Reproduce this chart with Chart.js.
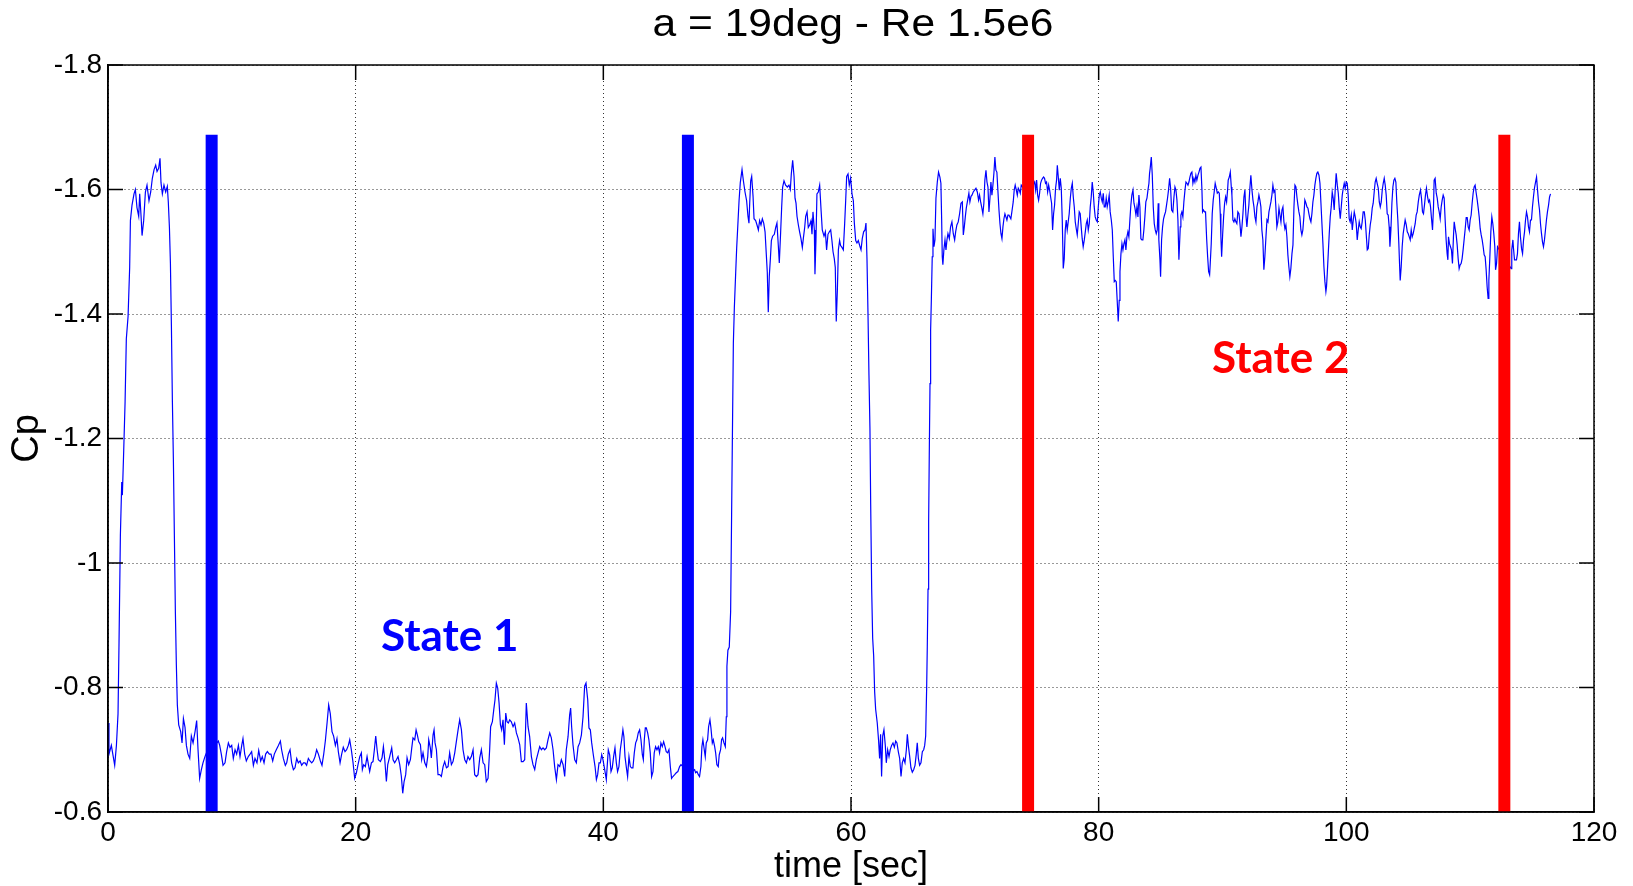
<!DOCTYPE html>
<html>
<head>
<meta charset="utf-8">
<title>a = 19deg - Re 1.5e6</title>
<script src="https://cdn.jsdelivr.net/npm/chart.js@4.4.1/dist/chart.umd.min.js"></script>
<style>
  html, body { margin: 0; padding: 0; background: #fff; }
  #wrap { width: 1633px; height: 886px; }
</style>
</head>
<body>
<div id="wrap"><canvas id="cpChart" width="1633" height="886"></canvas></div>
<script>
// ---- data: [time (s), Cp] ----
var traceStart = [
  [0,-0.743],[0.08,-0.693],[0.27,-0.707],[0.54,-0.675],[0.68,-0.707],[0.81,-0.758],[0.89,-0.872],[1.0,-1.044],
  [1.11,-1.13],[1.16,-1.109],[1.27,-1.181],[1.38,-1.259],[1.48,-1.36],[1.62,-1.396],[1.75,-1.475],[1.81,-1.55],
  [1.94,-1.575],[2.10,-1.593],[2.21,-1.6],[2.34,-1.571],[2.48,-1.557],[2.56,-1.593],[2.67,-1.557],[2.75,-1.526],
  [2.88,-1.55],[3.02,-1.596],[3.15,-1.607],[3.31,-1.582],[3.45,-1.596],[3.58,-1.618],[3.72,-1.632],[3.85,-1.639],
  [3.96,-1.629],[4.09,-1.634],[4.20,-1.65],[4.28,-1.611],[4.39,-1.593],[4.52,-1.607],[4.66,-1.596],[4.79,-1.605],
  [4.87,-1.58],[4.96,-1.539],[5.04,-1.482],[5.12,-1.381],[5.20,-1.259],[5.28,-1.166],[5.36,-1.044],[5.44,-0.922],
  [5.52,-0.836],[5.60,-0.772],[5.71,-0.740],[5.87,-0.729],[5.98,-0.711],[6.09,-0.750],[6.22,-0.736],[6.33,-0.707],
  [6.46,-0.693],[6.60,-0.686],[6.73,-0.722],[6.87,-0.711],[7.03,-0.729],[7.16,-0.747],[7.27,-0.700],[7.40,-0.654],
  [7.54,-0.668],[7.67,-0.679],[7.83,-0.689],[8.05,-0.70],[8.45,-0.72],[8.75,-0.71],[8.91,-0.714],[9.02,-0.707],
  [9.15,-0.693],[9.29,-0.675],[9.45,-0.679],[9.58,-0.697],[9.72,-0.711],[9.85,-0.704],[9.99,-0.707],[10.12,-0.686],
  [10.26,-0.700],[10.39,-0.693],[10.53,-0.707],[10.66,-0.689],[10.80,-0.707],[10.90,-0.718],[11.04,-0.693],[11.17,-0.682],
  [11.33,-0.689],[11.47,-0.693],[11.60,-0.697],[11.74,-0.675],[11.87,-0.686],[12.03,-0.679],[12.17,-0.699],[12.33,-0.682],
  [12.46,-0.689],[12.60,-0.679],[12.73,-0.693],[12.87,-0.697],[13.03,-0.693],[13.16,-0.693],[13.30,-0.682],[13.43,-0.693],
  [13.59,-0.700],[13.76,-0.707],[13.92,-0.714],[14.02,-0.700],[14.16,-0.686],[14.32,-0.675],[14.43,-0.679],[14.56,-0.693],
  [14.70,-0.700],[14.83,-0.679],[14.97,-0.668],[15.10,-0.671],[15.24,-0.686],[15.37,-0.679],[15.51,-0.682],[15.64,-0.675],
  [15.78,-0.679],[15.91,-0.679],[16.04,-0.675],[16.18,-0.686],[16.31,-0.682],[16.45,-0.679],[16.58,-0.682],[16.72,-0.689],
  [16.85,-0.700],[16.99,-0.693],[17.15,-0.682],[17.28,-0.675],[17.42,-0.693],[17.55,-0.714],[17.69,-0.743],[17.82,-0.772],
  [17.95,-0.758],[18.09,-0.729],[18.22,-0.722],[18.36,-0.707],[18.49,-0.718],[18.60,-0.697],[18.74,-0.679],[18.87,-0.693],
  [19.00,-0.704],[19.14,-0.697],[19.27,-0.700],[19.41,-0.707]
];

var traceState1 = [
  [19.52,-0.716],[19.65,-0.700],[19.79,-0.679],[19.92,-0.654],[20.06,-0.663],[20.19,-0.676],[20.33,-0.689],[20.46,-0.695],
  [20.54,-0.668],[20.65,-0.676],[20.78,-0.673],[20.92,-0.689],[21.03,-0.676],[21.13,-0.665],[21.27,-0.679],[21.40,-0.681],
  [21.51,-0.700],[21.62,-0.722],[21.73,-0.700],[21.83,-0.684],[22.00,-0.681],[22.13,-0.687],[22.24,-0.705],[22.35,-0.684],
  [22.48,-0.649],[22.59,-0.676],[22.75,-0.689],[22.91,-0.703],[23.02,-0.684],[23.15,-0.679],[23.29,-0.684],[23.42,-0.689],
  [23.56,-0.676],[23.69,-0.657],[23.80,-0.630],[23.91,-0.649],[24.04,-0.660],[24.15,-0.687],[24.28,-0.676],[24.42,-0.684],
  [24.53,-0.703],[24.63,-0.719],[24.77,-0.716],[24.88,-0.732],[24.98,-0.724],[25.09,-0.713],[25.23,-0.708],[25.33,-0.684],
  [25.44,-0.695],[25.58,-0.679],[25.71,-0.673],[25.82,-0.689],[25.90,-0.716],[26.03,-0.703],[26.11,-0.687],[26.25,-0.724],
  [26.33,-0.732],[26.41,-0.711],[26.52,-0.700],[26.65,-0.660],[26.79,-0.660],[26.92,-0.657],[27.06,-0.673],[27.19,-0.681],
  [27.33,-0.671],[27.46,-0.673],[27.59,-0.695],[27.73,-0.676],[27.86,-0.681],[28.00,-0.695],[28.13,-0.713],[28.27,-0.732],
  [28.40,-0.748],[28.54,-0.732],[28.67,-0.700],[28.81,-0.684],[28.94,-0.679],[29.07,-0.689],[29.21,-0.684],[29.34,-0.689],
  [29.48,-0.700],[29.61,-0.660],[29.75,-0.657],[29.88,-0.660],[30.02,-0.687],[30.15,-0.700],[30.29,-0.679],[30.42,-0.676],
  [30.55,-0.649],[30.69,-0.654],[30.82,-0.700],[30.90,-0.737],[31.04,-0.745],[31.15,-0.764],[31.25,-0.780],[31.36,-0.807],
  [31.47,-0.799],[31.58,-0.775],[31.69,-0.740],[31.79,-0.732],[31.90,-0.748],[32.01,-0.708],[32.12,-0.759],[32.22,-0.745],
  [32.33,-0.743],[32.44,-0.748],[32.57,-0.745],[32.71,-0.737],[32.84,-0.743],[32.98,-0.727],[33.11,-0.719],[33.25,-0.708],
  [33.38,-0.681],[33.52,-0.681],[33.65,-0.684],[33.78,-0.775],[33.92,-0.737],[34.05,-0.721],[34.19,-0.689],[34.32,-0.676],
  [34.46,-0.668],[34.59,-0.684],[34.73,-0.695],[34.86,-0.705],[35.00,-0.700],[35.13,-0.703],[35.26,-0.700],[35.40,-0.703],
  [35.53,-0.716],[35.67,-0.727],[35.80,-0.719],[35.94,-0.700],[36.07,-0.673],[36.21,-0.652],[36.34,-0.676],[36.48,-0.673],
  [36.61,-0.684],[36.75,-0.676],[36.88,-0.657],[37.01,-0.700],[37.15,-0.721],[37.28,-0.756],[37.36,-0.767],[37.44,-0.737],
  [37.55,-0.708],[37.69,-0.684],[37.82,-0.679],[37.96,-0.705],[38.09,-0.711],[38.23,-0.724],[38.36,-0.753],[38.49,-0.802],
  [38.60,-0.807],[38.74,-0.780],[38.84,-0.735],[38.95,-0.732],[39.06,-0.711],[39.19,-0.692],[39.33,-0.673],[39.44,-0.652],
  [39.54,-0.660],[39.65,-0.679],[39.76,-0.679],[39.87,-0.692],[39.97,-0.684],[40.11,-0.668],[40.24,-0.652],[40.40,-0.700],
  [40.51,-0.692],[40.62,-0.665],[40.72,-0.671],[40.83,-0.689],[40.94,-0.703],[41.05,-0.679],[41.15,-0.665],[41.26,-0.673],
  [41.37,-0.700],[41.48,-0.716],[41.58,-0.732],[41.66,-0.721],[41.75,-0.689],[41.85,-0.673],[41.96,-0.657],[42.07,-0.689],
  [42.18,-0.673],[42.28,-0.671],[42.39,-0.671],[42.50,-0.695],[42.61,-0.711],[42.71,-0.716],[42.82,-0.727],[42.93,-0.732],
  [43.04,-0.716],[43.15,-0.692],[43.23,-0.684],[43.31,-0.716],[43.39,-0.735],[43.47,-0.735],[43.58,-0.727],[43.68,-0.716],
  [43.79,-0.695],[43.90,-0.657],[44.01,-0.665],[44.11,-0.695],[44.22,-0.705],[44.33,-0.700],[44.44,-0.705],[44.54,-0.695],
  [44.65,-0.711],[44.76,-0.705],[44.87,-0.713],[44.98,-0.705],[45.08,-0.697],[45.19,-0.695],[45.30,-0.700],[45.41,-0.673],
  [45.51,-0.654],[45.62,-0.657],[45.76,-0.660],[45.89,-0.663],[46.02,-0.665],[46.16,-0.673],[46.27,-0.676],[46.5,-0.672],
  [46.9,-0.668],[47.2,-0.666],[47.37,-0.668],[47.45,-0.663],[47.56,-0.665],[47.67,-0.660],[47.77,-0.657],[47.88,-0.673],
  [47.96,-0.705],[48.04,-0.716],[48.15,-0.700],[48.23,-0.689],[48.31,-0.711],[48.42,-0.716],[48.50,-0.737],[48.61,-0.748],
  [48.69,-0.735],[48.80,-0.711],[48.88,-0.716],[48.99,-0.705],[49.07,-0.695],[49.17,-0.676],[49.28,-0.673],[49.36,-0.692],
  [49.47,-0.700],[49.55,-0.716],[49.63,-0.719],[49.74,-0.711],[49.85,-0.705],[49.93,-0.753],[49.98,-0.834],[50.06,-0.860]
];

var traceSwitch = [
  [50.17,-0.865],[50.28,-0.922],[50.36,-1.08],[50.44,-1.238],[50.50,-1.353],[50.58,-1.41],[50.69,-1.467],[50.77,-1.507],
  [50.88,-1.55],[50.96,-1.582],[51.06,-1.611],[51.20,-1.632],[51.31,-1.614],[51.44,-1.596],[51.57,-1.582],[51.68,-1.557],
  [51.76,-1.546],[51.82,-1.578],[51.90,-1.614],[51.98,-1.621],[52.09,-1.589],[52.17,-1.553],[52.30,-1.550],[52.41,-1.543],
  [52.52,-1.535],[52.62,-1.550],[52.73,-1.543],[52.84,-1.553],[52.95,-1.546],[53.06,-1.532],[53.16,-1.496],[53.24,-1.467],
  [53.32,-1.403],[53.40,-1.46],[53.49,-1.489],[53.57,-1.518],[53.67,-1.525],[53.81,-1.528],[53.92,-1.539],[54.02,-1.546],
  [54.13,-1.510],[54.21,-1.482],[54.32,-1.532],[54.40,-1.571],[54.48,-1.604],[54.59,-1.614],[54.72,-1.607],[54.86,-1.604],
  [54.99,-1.607],[55.10,-1.6],[55.18,-1.625],[55.29,-1.647],[55.40,-1.621],[55.48,-1.586],[55.56,-1.578],[55.64,-1.557],
  [55.75,-1.543],[55.85,-1.532],[55.96,-1.521],[56.07,-1.507],[56.15,-1.521],[56.26,-1.539],[56.34,-1.557],[56.45,-1.564],
  [56.55,-1.539],[56.66,-1.543],[56.77,-1.550],[56.85,-1.528],[56.93,-1.564],[57.04,-1.535],[57.09,-1.464],[57.17,-1.518],
  [57.25,-1.593],[57.36,-1.596],[57.47,-1.607],[57.58,-1.568],[57.68,-1.535],[57.82,-1.525],[57.93,-1.532],[58.03,-1.503],
  [58.14,-1.528],[58.25,-1.532],[58.36,-1.535],[58.46,-1.518],[58.55,-1.5],[58.65,-1.489],[58.73,-1.475],[58.81,-1.388],
  [58.90,-1.439],[58.98,-1.503],[59.08,-1.518],[59.16,-1.510],[59.27,-1.507],[59.38,-1.503],[59.49,-1.546],[59.57,-1.582],
  [59.65,-1.621],[59.76,-1.625],[59.86,-1.607],[59.97,-1.618],[60.08,-1.593],[60.19,-1.582],[60.27,-1.546],[60.38,-1.518],
  [60.48,-1.514],[60.59,-1.518],[60.70,-1.510],[60.81,-1.503],[60.91,-1.521],[61.02,-1.532],[61.13,-1.535],[61.21,-1.546],
  [61.29,-1.489],[61.37,-1.403],[61.45,-1.302],[61.53,-1.216],[61.59,-1.094],[61.67,-0.958],[61.75,-0.879],[61.83,-0.851],
  [61.91,-0.793],[61.99,-0.765],[62.12,-0.743],[62.23,-0.714],[62.31,-0.686],[62.39,-0.725],[62.47,-0.657],[62.56,-0.722],
  [62.66,-0.732],[62.77,-0.707],[62.85,-0.679],[62.96,-0.700],[63.07,-0.689],[63.17,-0.700],[63.28,-0.707],[63.39,-0.711],
  [63.50,-0.704],[63.61,-0.714],[63.71,-0.711],[63.82,-0.697],[63.93,-0.686],[64.04,-0.657],[64.14,-0.679],[64.25,-0.686],
  [64.36,-0.679],[64.47,-0.700],[64.55,-0.725],[64.63,-0.707],[64.74,-0.689],[64.84,-0.671],[64.95,-0.664],[65.06,-0.668],
  [65.17,-0.675],[65.27,-0.693],[65.35,-0.711],[65.44,-0.686],[65.54,-0.675],[65.65,-0.679],[65.76,-0.697],[65.87,-0.700],
  [65.95,-0.707],[66.03,-0.722],[66.11,-0.800],[66.16,-0.865],[66.22,-0.958],[66.27,-1.066],[66.32,-1.173],[66.38,-1.288],
  [66.43,-1.374],[66.49,-1.424]
];

var traceState2a = [
  [66.56,-1.492],[66.62,-1.537],[66.70,-1.508],[66.78,-1.519],[66.86,-1.586],[66.97,-1.612],[67.07,-1.628],[67.18,-1.620],
  [67.26,-1.610],[67.32,-1.553],[67.37,-1.492],[67.42,-1.479],[67.50,-1.503],[67.59,-1.519],[67.67,-1.503],[67.75,-1.519],
  [67.83,-1.529],[67.94,-1.521],[68.04,-1.540],[68.15,-1.548],[68.26,-1.529],[68.37,-1.519],[68.45,-1.532],[68.55,-1.543],
  [68.66,-1.548],[68.77,-1.561],[68.88,-1.578],[68.99,-1.580],[69.07,-1.527],[69.15,-1.540],[69.23,-1.556],[69.31,-1.570],
  [69.42,-1.583],[69.52,-1.594],[69.60,-1.580],[69.69,-1.589],[69.77,-1.591],[69.87,-1.596],[69.98,-1.599],[70.09,-1.602],
  [70.20,-1.596],[70.30,-1.583],[70.38,-1.591],[70.47,-1.580],[70.55,-1.572],[70.65,-1.561],[70.73,-1.578],[70.81,-1.615],
  [70.90,-1.631],[70.98,-1.612],[71.06,-1.604],[71.14,-1.564],[71.22,-1.586],[71.30,-1.612],[71.38,-1.591],[71.46,-1.607],
  [71.54,-1.626],[71.62,-1.652],[71.70,-1.631],[71.78,-1.628],[71.86,-1.599],[71.95,-1.567],[72.03,-1.545],[72.11,-1.529],
  [72.19,-1.521],[72.27,-1.540],[72.35,-1.553],[72.43,-1.561],[72.51,-1.556],[72.59,-1.551],[72.67,-1.559],[72.75,-1.559],
  [72.83,-1.556],[72.91,-1.553],[72.99,-1.564],[73.10,-1.580],[73.18,-1.599],[73.26,-1.607],[73.35,-1.599],[73.43,-1.591],
  [73.51,-1.602],[73.59,-1.599],[73.67,-1.594],[73.75,-1.607],[74.0,-1.60],[74.35,-1.595],[74.65,-1.605],[74.83,-1.612],
  [74.91,-1.599],[74.99,-1.615],[75.07,-1.591],[75.15,-1.583],[75.23,-1.594],[75.31,-1.610],[75.39,-1.615],[75.47,-1.618],
  [75.55,-1.620],[75.63,-1.618],[75.71,-1.610],[75.79,-1.612],[75.88,-1.596],[75.96,-1.607],[76.04,-1.599],[76.12,-1.588],
  [76.20,-1.578],[76.28,-1.535],[76.36,-1.561],[76.44,-1.575],[76.52,-1.602],[76.60,-1.615],[76.66,-1.639],[76.74,-1.620],
  [76.82,-1.599],[76.90,-1.618],[76.98,-1.602],[77.06,-1.551],[77.14,-1.473],[77.22,-1.489],[77.30,-1.535],[77.38,-1.551],
  [77.46,-1.535],[77.54,-1.548],[77.62,-1.561],[77.71,-1.586],[77.79,-1.602],[77.87,-1.610],[77.95,-1.588],[78.03,-1.572],
  [78.11,-1.548],[78.19,-1.537],[78.27,-1.527],[78.35,-1.545],[78.43,-1.564],[78.51,-1.561],[78.59,-1.540],[78.67,-1.521],
  [78.75,-1.508],[78.84,-1.519],[78.92,-1.532],[79.00,-1.545],[79.08,-1.551],[79.16,-1.535],[79.24,-1.545],[79.32,-1.572],
  [79.40,-1.588],[79.48,-1.612],[79.56,-1.596],[79.64,-1.572],[79.72,-1.556],[79.80,-1.551],[79.89,-1.548],[79.97,-1.572],
  [80.05,-1.591],[80.13,-1.596],[80.21,-1.586],[80.29,-1.580],[80.37,-1.594],[80.45,-1.572],[80.53,-1.572],[80.61,-1.586],
  [80.69,-1.572],[80.77,-1.580],[80.85,-1.591],[80.93,-1.564],[81.02,-1.551],[81.10,-1.535],[81.18,-1.492],[81.26,-1.452],
  [81.34,-1.454],[81.42,-1.452],[81.50,-1.420],[81.58,-1.388],[81.66,-1.422],[81.72,-1.468],[81.80,-1.497],[81.88,-1.513],
  [81.96,-1.503],[82.04,-1.513],[82.12,-1.519],[82.20,-1.503],[82.28,-1.524],[82.36,-1.532],[82.44,-1.524],[82.52,-1.551],
  [82.60,-1.575],[82.68,-1.591],[82.77,-1.599],[82.85,-1.578],[82.93,-1.570],[83.01,-1.559],[83.09,-1.572],[83.17,-1.556],
  [83.25,-1.591],[83.33,-1.572],[83.41,-1.521],[83.49,-1.519],[83.57,-1.519],[83.65,-1.535],[83.73,-1.556],[83.81,-1.580],
  [83.90,-1.586],[83.98,-1.599],[84.06,-1.610],[84.11,-1.626],[84.16,-1.634],[84.25,-1.652],[84.33,-1.623],[84.41,-1.572],
  [84.49,-1.545],[84.57,-1.535],[84.65,-1.529],[84.73,-1.535],[84.81,-1.578],[84.86,-1.519],[84.95,-1.487],[85.00,-1.460],
  [85.08,-1.519],[85.16,-1.540],[85.24,-1.553],[85.32,-1.559],[85.40,-1.564],[85.48,-1.575],[85.56,-1.586],[85.64,-1.599],
  [85.73,-1.618],[85.81,-1.602],[85.89,-1.567],[85.99,-1.564],[86.08,-1.588],[86.16,-1.604],[86.24,-1.599],[86.32,-1.583],
  [86.40,-1.551],[86.48,-1.487]
];

var traceState2b = [
  [86.59,-1.540],[86.64,-1.559],[86.72,-1.564],[86.80,-1.556],[86.88,-1.580],[86.97,-1.599],[87.05,-1.612],[87.13,-1.610],
  [87.21,-1.607],[87.29,-1.612],[87.37,-1.620],[87.45,-1.626],[87.53,-1.628],[87.61,-1.610],[87.69,-1.618],[87.77,-1.612],
  [87.85,-1.623],[87.93,-1.615],[88.02,-1.623],[88.10,-1.628],[88.18,-1.634],[88.26,-1.636],[88.34,-1.599],[88.39,-1.564],
  [88.47,-1.567],[88.55,-1.564],[88.63,-1.564],[88.72,-1.521],[88.80,-1.492],[88.88,-1.468],[88.96,-1.463],[89.01,-1.481],
  [89.09,-1.513],[89.17,-1.561],[89.25,-1.583],[89.33,-1.596],[89.41,-1.610],[89.50,-1.602],[89.58,-1.594],[89.66,-1.596],
  [89.74,-1.594],[89.82,-1.561],[89.87,-1.524],[89.93,-1.492],[90.01,-1.527],[90.09,-1.556],[90.17,-1.578],[90.25,-1.588],
  [90.33,-1.580],[90.41,-1.599],[90.46,-1.615],[90.55,-1.620],[90.63,-1.628],[90.71,-1.604],[90.76,-1.591],[90.84,-1.551],
  [90.92,-1.548],[91.00,-1.553],[91.08,-1.548],[91.16,-1.545],[91.24,-1.564],[91.33,-1.561],[91.41,-1.545],[91.49,-1.524],
  [91.57,-1.540],[91.65,-1.561],[91.73,-1.588],[91.81,-1.599],[91.89,-1.559],[91.97,-1.540],[92.05,-1.559],[92.13,-1.575],
  [92.21,-1.602],[92.29,-1.623],[92.38,-1.599],[92.46,-1.583],[92.54,-1.572],[92.62,-1.556],[92.70,-1.548],[92.78,-1.572],
  [92.86,-1.580],[92.94,-1.591],[93.02,-1.583],[93.10,-1.572],[93.18,-1.535],[93.26,-1.519],[93.34,-1.471],[93.42,-1.492],
  [93.51,-1.524],[93.59,-1.551],[93.67,-1.548],[93.75,-1.564],[93.83,-1.572],[93.91,-1.580],[93.99,-1.591],[94.07,-1.607],
  [94.15,-1.596],[94.23,-1.599],[94.31,-1.572],[94.39,-1.540],[94.47,-1.548],[94.56,-1.570],[94.64,-1.559],[94.72,-1.548],
  [94.80,-1.567],[94.88,-1.572],[94.96,-1.548],[95.04,-1.537],[95.12,-1.543],[95.20,-1.524],[95.28,-1.495],[95.36,-1.476],
  [95.44,-1.460],[95.52,-1.473],[95.61,-1.497],[95.69,-1.511],[95.77,-1.572],[95.85,-1.607],[95.93,-1.604],[96.01,-1.588],
  [96.09,-1.575],[96.17,-1.564],[96.25,-1.556],[96.33,-1.535],[96.41,-1.527],[96.49,-1.535],[96.57,-1.556],[96.65,-1.583],
  [96.74,-1.578],[96.82,-1.572],[96.90,-1.570],[96.98,-1.561],[97.06,-1.553],[97.14,-1.548],[97.22,-1.561],[97.30,-1.580],
  [97.38,-1.591],[97.46,-1.607],[97.54,-1.618],[97.62,-1.626],[97.70,-1.628],[97.79,-1.623],[97.87,-1.610],[97.95,-1.578],
  [98.03,-1.545],[98.11,-1.513],[98.19,-1.476],[98.27,-1.452],[98.35,-1.436],[98.40,-1.444],[98.46,-1.465],[98.54,-1.497],
  [98.62,-1.529],[98.70,-1.556],[98.78,-1.572],[98.86,-1.596],[98.94,-1.586],[99.02,-1.567],[99.10,-1.599],[99.18,-1.626],
  [99.27,-1.607],[99.35,-1.594],[99.43,-1.570],[99.51,-1.553],[99.59,-1.572],[99.67,-1.591],[99.75,-1.602],[99.83,-1.610],
  [99.91,-1.602],[99.99,-1.612],[100.07,-1.610],[100.15,-1.591],[100.23,-1.553],[100.31,-1.548],[100.40,-1.559],[100.48,-1.535],
  [100.56,-1.551],[100.64,-1.564],[100.72,-1.556],[100.80,-1.545],[100.88,-1.519],[100.96,-1.535],[101.04,-1.548],[101.12,-1.540],
  [101.20,-1.537],[101.28,-1.548],[101.36,-1.564],[101.45,-1.564],[101.53,-1.551],[101.61,-1.527],[101.69,-1.503],[101.77,-1.505],
  [101.85,-1.527],[101.93,-1.543],[102.01,-1.553],[102.09,-1.570],[102.17,-1.578],[102.25,-1.596],[102.33,-1.612],[102.41,-1.618],
  [102.49,-1.610],[102.58,-1.602],[102.66,-1.580],[102.74,-1.572],[102.82,-1.580],[102.90,-1.599],[102.98,-1.610],[103.06,-1.618],
  [103.14,-1.607],[103.22,-1.591],[103.30,-1.561],[103.38,-1.559],[103.46,-1.540],[103.52,-1.508],[103.60,-1.535],[103.68,-1.578],
  [103.76,-1.604],[103.84,-1.615],[103.92,-1.618],[104.00,-1.612],[104.08,-1.578],[104.16,-1.551],[104.24,-1.513],[104.30,-1.479],
  [104.35,-1.454],[104.43,-1.476],[104.51,-1.508],[104.59,-1.529],[104.67,-1.540],[104.75,-1.551],[104.84,-1.543],[104.92,-1.532],
  [105.00,-1.529],[105.08,-1.524],[105.16,-1.519],[105.24,-1.535],[105.32,-1.524],[105.40,-1.529],[105.48,-1.537],[105.56,-1.545],
  [105.64,-1.559],[105.72,-1.564],[105.81,-1.580],[105.89,-1.591],[105.99,-1.599],[106.07,-1.586],[106.15,-1.564],[106.23,-1.561],
  [106.31,-1.575],[106.39,-1.591],[106.47,-1.602],[106.56,-1.588],[106.64,-1.580],[106.72,-1.583],[106.80,-1.572],[106.88,-1.553],
  [106.96,-1.535],[107.04,-1.572],[107.09,-1.615],[107.17,-1.618],[107.26,-1.594],[107.34,-1.586],[107.42,-1.572],[107.50,-1.564],
  [107.58,-1.553],[107.66,-1.572],[107.74,-1.583],[107.82,-1.591],[107.90,-1.586],[107.98,-1.551],[108.06,-1.519],[108.14,-1.497],
  [108.20,-1.487],[108.25,-1.524],[108.33,-1.513],[108.41,-1.508],[108.49,-1.503],[108.57,-1.481],[108.65,-1.524],[108.71,-1.548],
  [108.79,-1.537],[108.87,-1.527],[108.95,-1.511],[109.03,-1.489],[109.11,-1.473],[109.19,-1.479],[109.27,-1.481],[109.35,-1.489],
  [109.44,-1.505],[109.52,-1.521],[109.60,-1.537],[109.68,-1.555],[109.76,-1.555],[109.84,-1.540],[109.92,-1.535],[110.00,-1.551],
  [110.08,-1.559],[110.16,-1.578],[110.24,-1.594],[110.32,-1.604],[110.40,-1.607],[110.49,-1.594],[110.57,-1.583],[110.65,-1.570],
  [110.73,-1.556],[110.81,-1.537],[110.89,-1.527],[110.97,-1.519],[111.05,-1.508],[111.13,-1.495],[111.21,-1.492],[111.29,-1.471],
  [111.37,-1.444],[111.45,-1.425],[111.51,-1.454],[111.59,-1.492],[111.67,-1.532],[111.75,-1.556],[111.83,-1.545],[111.91,-1.529],
  [111.99,-1.508],[112.05,-1.471],[112.13,-1.481],[112.21,-1.508],[112.45,-1.50],[112.8,-1.49],[113.1,-1.48],[113.31,-1.473],
  [113.36,-1.503],[113.45,-1.519],[113.50,-1.505],[113.58,-1.487],[113.66,-1.487],[113.74,-1.487],[113.82,-1.497],[113.90,-1.529],
  [113.98,-1.548],[114.06,-1.524],[114.15,-1.505],[114.23,-1.497],[114.31,-1.519],[114.39,-1.532],[114.47,-1.551],[114.55,-1.564],
  [114.63,-1.556],[114.71,-1.540],[114.79,-1.532],[114.87,-1.551],[114.95,-1.551],[115.03,-1.572],[115.11,-1.588],[115.19,-1.602],
  [115.28,-1.612],[115.36,-1.620],[115.44,-1.599],[115.52,-1.580],[115.60,-1.567],[115.68,-1.545],[115.76,-1.529],[115.84,-1.516],
  [115.92,-1.508],[116.00,-1.519],[116.08,-1.535],[116.16,-1.551],[116.24,-1.564],[116.33,-1.575],[116.41,-1.588],[116.49,-1.593]
];

// state boundary markers (time in s), all drawn from Cp -0.6 up to the same top
var state1Bounds = [8.37, 46.83];
var state2Bounds = [74.3, 112.76];
var boundCpRange = [-0.6, -1.688];

var xTickValues = [0, 20, 40, 60, 80, 100, 120];
var yTickValues = [-1.8, -1.6, -1.4, -1.2, -1, -0.8, -0.6];

var chartTitle = 'a = 19deg - Re 1.5e6';
var stateLabels = [
  { text: 'State 1', t: 27.6, cp: -0.859, color: '#0000ff' },
  { text: 'State 2', t: 94.7, cp: -1.305, color: '#ff0000' }
];

var AXIS_FONT = '"Liberation Sans", Arial, Helvetica, sans-serif';

var cpTrace = traceStart.concat(traceState1, traceSwitch, traceState2a, traceState2b);

function boundDataset(t, color) {
    return {
        data: [{x: t, y: boundCpRange[0]}, {x: t, y: boundCpRange[1]}],
        borderColor: color,
        borderWidth: 12,
        borderCapStyle: 'butt',
        pointRadius: 0,
        order: 0,
        clip: false
    };
}

// frame, inward ticks, stretched title and state labels
var decorations = {
    id: 'decorations',
    afterDraw: function(chart) {
        var ctx = chart.ctx;
        var a = chart.chartArea;
        var xs = chart.scales.x;
        var ys = chart.scales.y;
        ctx.save();

        stateLabels.forEach(function(l) {
            ctx.font = 'bold 44px Lato, "Open Sans", sans-serif';
            ctx.fillStyle = l.color;
            ctx.textAlign = 'center';
            ctx.textBaseline = 'alphabetic';
            ctx.fillText(l.text, xs.getPixelForValue(l.t), ys.getPixelForValue(l.cp));
        });

        ctx.strokeStyle = '#000';
        ctx.lineWidth = 1.5;
        ctx.setLineDash([]);
        ctx.strokeRect(a.left, a.top, a.right - a.left, a.bottom - a.top);
        ctx.beginPath();
        xTickValues.forEach(function(v) {
            var px = xs.getPixelForValue(v);
            ctx.moveTo(px, a.bottom); ctx.lineTo(px, a.bottom - 15);
            ctx.moveTo(px, a.top); ctx.lineTo(px, a.top + 15);
        });
        yTickValues.forEach(function(v) {
            var py = ys.getPixelForValue(v);
            ctx.moveTo(a.left, py); ctx.lineTo(a.left + 15, py);
            ctx.moveTo(a.right, py); ctx.lineTo(a.right - 15, py);
        });
        ctx.stroke();

        // MATLAB title is a bit wider than plain Arial
        ctx.font = '38px ' + AXIS_FONT;
        ctx.fillStyle = '#000';
        ctx.textAlign = 'center';
        ctx.textBaseline = 'alphabetic';
        ctx.translate((a.left + a.right) / 2 + 2, 36);
        ctx.scale(1.12, 1);
        ctx.fillText(chartTitle, 0, 0);
        ctx.restore();
    }
};

var datasets = [{
    data: cpTrace.map(function(p) { return {x: p[0], y: p[1]}; }),
    borderColor: '#0000ff',
    borderWidth: 1.2,
    pointRadius: 0,
    tension: 0,
    order: 1
}];
state1Bounds.forEach(function(t) { datasets.push(boundDataset(t, '#0000ff')); });
state2Bounds.forEach(function(t) { datasets.push(boundDataset(t, '#ff0000')); });

var gridStyle = { color: '#333', lineWidth: 1, drawTicks: false };

new Chart(document.getElementById('cpChart').getContext('2d'), {
    type: 'line',
    data: { datasets: datasets },
    options: {
        responsive: false,
        animation: false,
        layout: { padding: { top: 65, right: 39, bottom: 0, left: 0 } },
        plugins: {
            legend: { display: false },
            tooltip: { enabled: false },
            title: { display: false }
        },
        scales: {
            x: {
                type: 'linear',
                min: 0,
                max: 120,
                afterBuildTicks: function(s) { s.ticks = xTickValues.map(function(v) { return {value: v}; }); },
                afterFit: function(s) { s.height = 74; },
                grid: gridStyle,
                border: { display: true, color: '#000', width: 1.5, dash: [1, 3] },
                ticks: {
                    padding: 4,
                    color: '#000',
                    maxRotation: 0,
                    font: { family: AXIS_FONT, size: 28 },
                    callback: function(v) { return String(v); }
                },
                title: {
                    display: true,
                    text: 'time [sec]',
                    color: '#000',
                    font: { family: AXIS_FONT, size: 36, lineHeight: 1 },
                    padding: { top: 0, bottom: 1 }
                }
            },
            y: {
                type: 'linear',
                reverse: true,
                min: -1.8,
                max: -0.6,
                afterBuildTicks: function(s) { s.ticks = yTickValues.map(function(v) { return {value: v}; }); },
                afterFit: function(s) { s.width = 108; },
                grid: gridStyle,
                border: { display: true, color: '#000', width: 1.5, dash: [1, 3] },
                ticks: {
                    padding: 6,
                    color: '#000',
                    font: { family: AXIS_FONT, size: 28 },
                    callback: function(v) { return String(Math.round(v * 10) / 10); }
                },
                title: {
                    display: true,
                    text: 'Cp',
                    color: '#000',
                    font: { family: AXIS_FONT, size: 38, lineHeight: 1 },
                    padding: { top: 9, bottom: 0 }
                }
            }
        }
    },
    plugins: [decorations]
});
</script>
</body>
</html>
